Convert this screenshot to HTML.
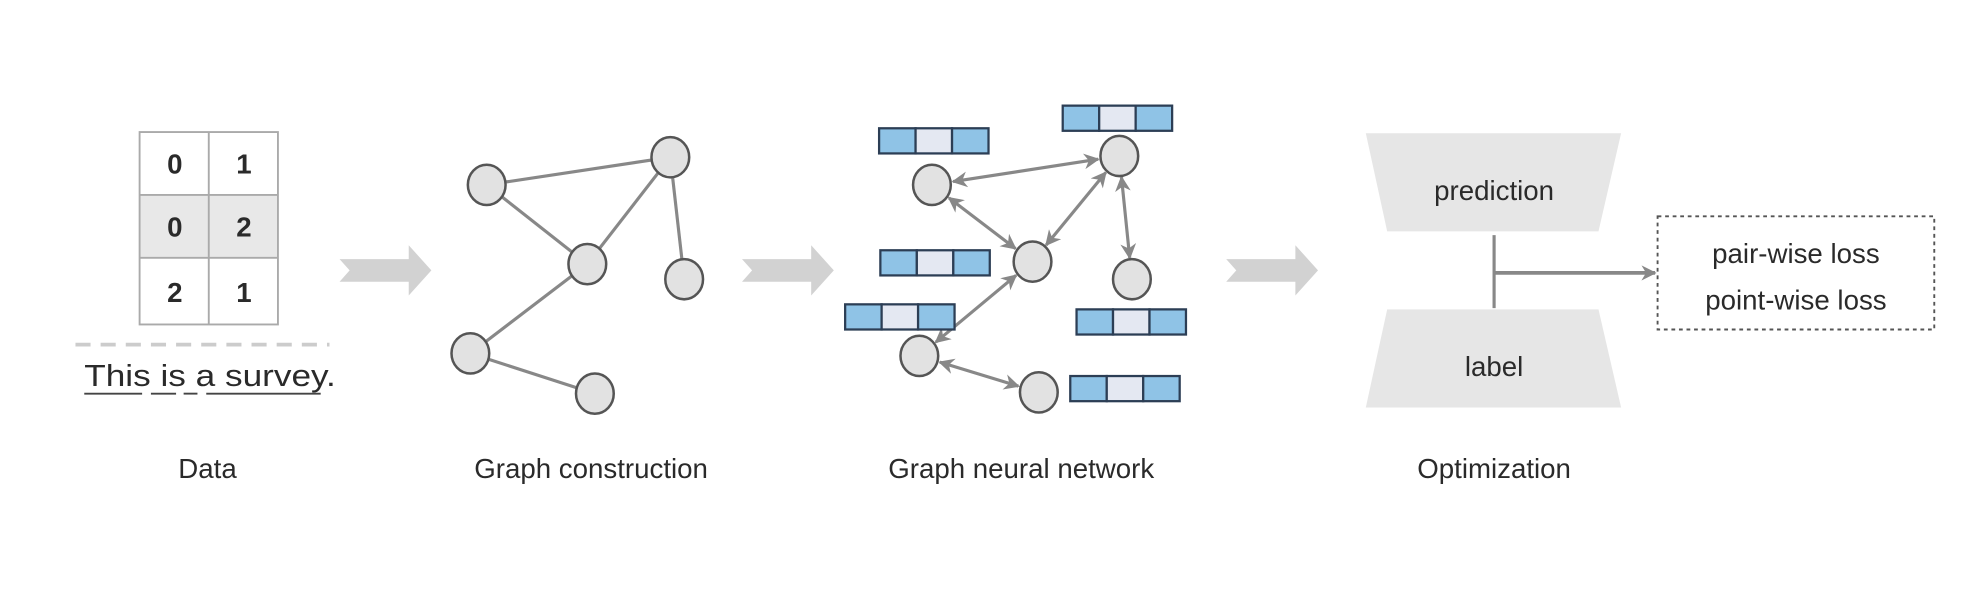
<!DOCTYPE html>
<html><head><meta charset="utf-8"><style>
html,body{margin:0;padding:0;background:#fff;}
svg{display:block;}
text{font-family:"Liberation Sans",sans-serif;fill:#2a2a2a;}
</style></head><body>
<svg id="s" width="1972" height="598" viewBox="0 0 1568 475.5" preserveAspectRatio="none" xmlns="http://www.w3.org/2000/svg">
<defs>
<marker id="ah" viewBox="0 0 10 10" refX="9" refY="5" markerWidth="5" markerHeight="5" orient="auto-start-reverse">
<path d="M0,0 L10,5 L0,10 L3,5 z" fill="#888"/>
</marker>
<marker id="ah2" viewBox="0 0 10 10" refX="9" refY="5" markerWidth="4" markerHeight="4" orient="auto">
<path d="M0,0 L10,5 L0,10 L3,5 z" fill="#888"/>
</marker>
</defs>
<rect width="1568" height="475.5" fill="#fff"/>
<rect x="111" y="155" width="110" height="50" fill="#e8e8e8"/>
<g stroke="#aaa" stroke-width="1.5" fill="none">
<rect x="111" y="105" width="110" height="153"/>
<line x1="166" y1="105" x2="166" y2="258"/>
<line x1="111" y1="155" x2="221" y2="155"/>
<line x1="111" y1="205" x2="221" y2="205"/>
</g>
<g font-size="22" font-weight="bold" text-anchor="middle">
<text x="139" y="138">0</text><text x="194" y="138">1</text>
<text x="139" y="188">0</text><text x="194" y="188">2</text>
<text x="139" y="240">2</text><text x="194" y="240">1</text>
</g>
<line x1="60" y1="274" x2="262" y2="274" stroke="#ccc" stroke-width="3" stroke-dasharray="12,8"/>
<text x="67" y="307" font-size="24" textLength="200" lengthAdjust="spacingAndGlyphs">This is a survey.</text>
<g stroke="#444" stroke-width="1.5">
<line x1="67" y1="313" x2="113" y2="313"/><line x1="120" y1="313" x2="140" y2="313"/>
<line x1="146" y1="313" x2="157" y2="313"/><line x1="164" y1="313" x2="255" y2="313"/>
</g>
<text x="165" y="380" font-size="22" text-anchor="middle">Data</text>
<g fill="#d2d2d2">
<polygon points="270,206 325,206 325,195 343,215 325,235 325,224 270,224 278,215"/>
<polygon points="590,206 645,206 645,195 663,215 645,235 645,224 590,224 598,215"/>
<polygon points="975,206 1030,206 1030,195 1048,215 1030,235 1030,224 975,224 983,215"/>
</g>
<text x="470" y="380" font-size="22" text-anchor="middle">Graph construction</text>
<text x="812" y="380" font-size="22" text-anchor="middle">Graph neural network</text>
<text x="1188" y="380" font-size="22" text-anchor="middle">Optimization</text>
<g id="g1"></g>
<g id="g2"></g>
<polygon points="1086,106 1289,106 1271,184 1103,184" fill="#e6e6e6"/>
<polygon points="1103,246 1271,246 1289,324 1086,324" fill="#e6e6e6"/>
<text x="1188" y="159" font-size="22" text-anchor="middle">prediction</text>
<text x="1188" y="299" font-size="22" text-anchor="middle">label</text>
<line x1="1188" y1="187" x2="1188" y2="245" stroke="#888" stroke-width="2.5"/>
<line x1="1188" y1="217" x2="1316" y2="217" stroke="#888" stroke-width="3" marker-end="url(#ah2)"/>
<rect x="1318" y="172" width="220" height="90" fill="none" stroke="#555" stroke-width="1.5" stroke-dasharray="3,3"/>
<text x="1428" y="209" font-size="22" text-anchor="middle">pair-wise loss</text>
<text x="1428" y="246" font-size="22" text-anchor="middle">point-wise loss</text>
</svg>
<script>
var NS="http://www.w3.org/2000/svg";
function el(p,t,a){var e=document.createElementNS(NS,t);for(var k in a)e.setAttribute(k,a[k]);p.appendChild(e);return e;}
function graph(gid,nodes,edges,arrows){
 var g=document.getElementById(gid),r=15;
 edges.forEach(function(e){var a=nodes[e[0]],b=nodes[e[1]];var dx=b[0]-a[0],dy=b[1]-a[1],L=Math.hypot(dx,dy);
  var o=arrows?r+2:0;
  var attrs={x1:a[0]+dx/L*o,y1:a[1]+dy/L*o,x2:b[0]-dx/L*o,y2:b[1]-dy/L*o,stroke:"#888","stroke-width":2.5};
  if(arrows){attrs["marker-start"]="url(#ah)";attrs["marker-end"]="url(#ah)";}
  el(g,"line",attrs);});
 nodes.forEach(function(n){el(g,"ellipse",{cx:n[0],cy:n[1],rx:15,ry:16,fill:"#e2e2e2",stroke:"#555","stroke-width":2});});
}
graph("g1",[[387,147],[533,125],[467,210],[544,222],[374,281],[473,313]],[[0,1],[0,2],[1,2],[1,3],[2,4],[4,5]],false);
graph("g2",[[741,147],[890,124],[821,208],[900,222],[731,283],[826,312]],[[0,1],[0,2],[2,1],[1,3],[2,4],[4,5]],true);
var g2=document.getElementById("g2");
[[699,102],[845,84],[700,199],[672,242],[856,246],[851,299]].forEach(function(b){
 var cols=["#8fc3e6","#e4e8f2","#8fc3e6"];
 for(var i=0;i<3;i++)el(g2,"rect",{x:b[0]+i*29,y:b[1],width:29,height:20,fill:cols[i],stroke:"#2c3e55","stroke-width":1.8});
});
</script>
</body></html>
